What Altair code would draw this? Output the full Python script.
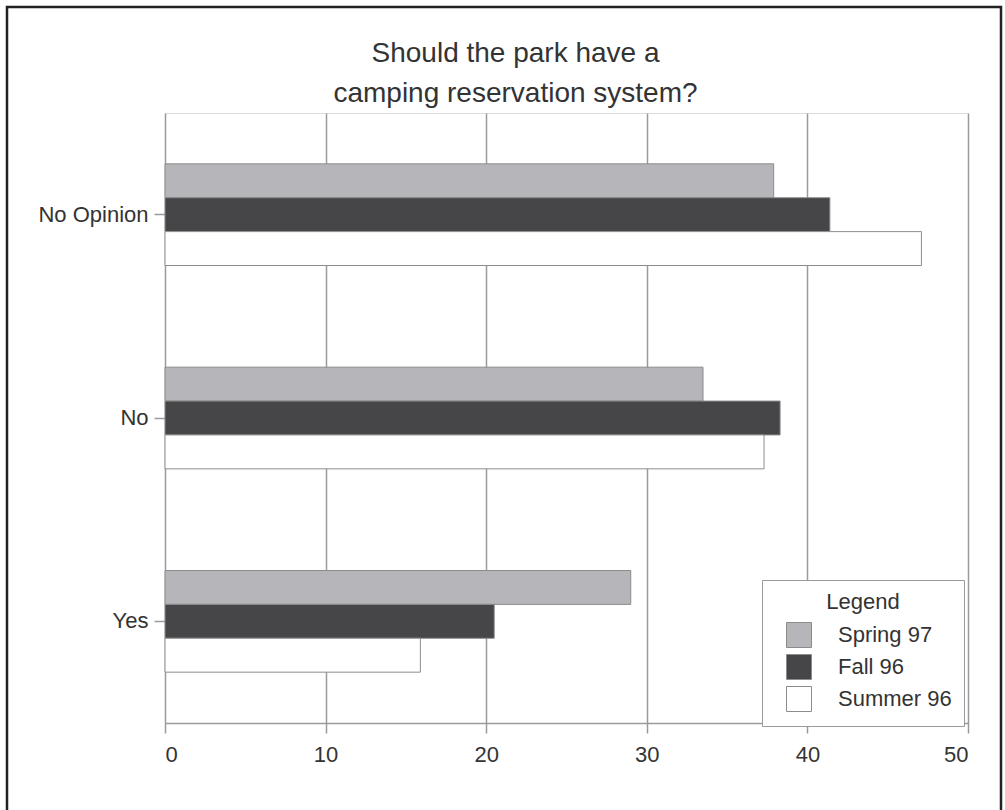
import altair as alt
import pandas as pd

# Survey answers by season (percent of respondents)
categories = ["No Opinion", "No", "Yes"]
seasons = ["Spring 97", "Fall 96", "Summer 96"]
spring_97 = [37.9, 33.5, 29.0]
fall_96 = [41.4, 38.3, 20.5]
summer_96 = [47.1, 37.3, 15.9]
x_ticks = [0, 10, 20, 30, 40, 50]
season_colors = ["#b6b6ba", "#464649", "#ffffff"]

rows = []
for season, values in zip(seasons, [spring_97, fall_96, summer_96]):
    for cat, v in zip(categories, values):
        rows.append({"category": cat, "season": season, "pct": v})
df = pd.DataFrame(rows)

FONT = "Liberation Sans"
TEXT = "#333333"
GRID = "#9a9a9a"

bars = alt.Chart(df).mark_bar(stroke="#8c8c8c", strokeWidth=1).encode(
    x=alt.X(
        "pct:Q",
        scale=alt.Scale(domain=[0, 50], nice=False),
        axis=alt.Axis(
            title=None,
            values=x_ticks,
            grid=True,
            gridColor=GRID,
            gridWidth=1.5,
            domainColor=GRID,
            domainWidth=1.5,
            tickColor=GRID,
            tickWidth=1.5,
            tickSize=10,
            labelFontSize=22,
            labelFont=FONT,
            labelColor=TEXT,
            labelPadding=11,
        ),
    ),
    y=alt.Y(
        "category:N",
        sort=categories,
        scale=alt.Scale(paddingInner=0.5, paddingOuter=0.25),
        axis=alt.Axis(
            title=None,
            grid=False,
            domain=False,
            tickColor=GRID,
            tickWidth=1.5,
            tickSize=11,
            labelFontSize=22,
            labelFont=FONT,
            labelColor=TEXT,
            labelPadding=6,
        ),
    ),
    yOffset=alt.YOffset(
        "season:N",
        sort=seasons,
        scale=alt.Scale(paddingInner=0, paddingOuter=0),
    ),
    color=alt.Color(
        "season:N",
        sort=seasons,
        scale=alt.Scale(domain=seasons, range=season_colors),
        legend=alt.Legend(
            title="Legend",
            orient="none",
            legendX=597,
            legendY=467,
            fillColor="white",
            strokeColor=GRID,
            padding=12,
            titleAnchor="middle",
            titleFont=FONT,
            titleFontSize=22,
            titleFontWeight="normal",
            titleColor=TEXT,
            titlePadding=8,
            labelFont=FONT,
            labelFontSize=22,
            labelColor=TEXT,
            labelOffset=26,
            symbolType="square",
            symbolSize=625,
            symbolOffset=12,
            symbolStrokeColor="#8c8c8c",
            symbolStrokeWidth=1,
            rowPadding=2,
        ),
    ),
)

# Outer frame around the whole figure
frame = alt.Chart(alt.Data(values=[{}])).mark_rect(
    fill=None, stroke="#222222", strokeWidth=2.5, clip=False
).encode(
    x=alt.value(-158),
    x2=alt.value(836),
    y=alt.value(-106),
    y2=alt.value(705),
)

chart = alt.layer(bars, frame).properties(
    width=803,
    height=610,
    padding={"left": 165, "top": 113, "right": 37, "bottom": 87},
    autosize=alt.AutoSizeParams(type="none"),
    title=alt.TitleParams(
        text=["Should the park have a", "camping reservation system?"],
        font=FONT,
        fontSize=28,
        fontWeight="normal",
        color=TEXT,
        anchor="middle",
        dx=-51,
        dy=112,
        offset=10,
        lineHeight=40,
    ),
).configure_view(stroke=None).configure(background="white")

chart.save("out.html", embed_options={"renderer": "svg", "actions": False})
